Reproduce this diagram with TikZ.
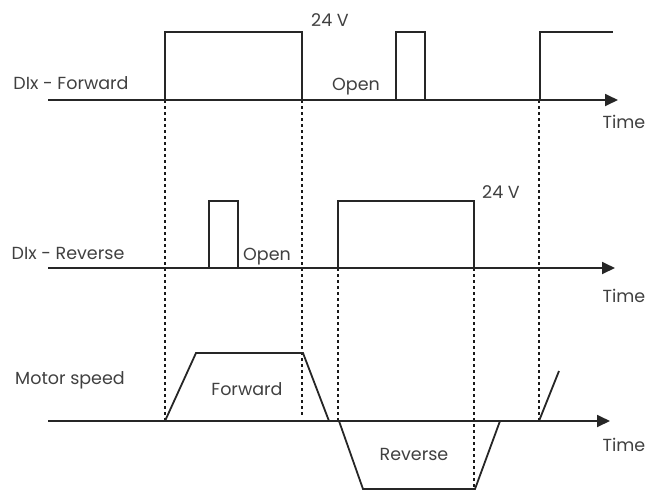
\documentclass[tikz,border=0pt]{standalone}
\usepackage{fontspec}
\newfontfamily\lbfont{Poppins}
\usetikzlibrary{arrows.meta}
\begin{document}
\begin{tikzpicture}[x=1pt,y=-1pt,
  sig/.style={line width=1.8pt, black!85, line join=miter},
  axis/.style={sig, -{Triangle[length=13pt,width=12pt]}},
  guide/.style={line width=1.4pt, black!90, dash pattern=on 3pt off 3pt},
  lbl/.style={font=\lbfont\fontsize{17.5}{20}\selectfont, text=black!75, inner sep=0pt}]
\useasboundingbox (0,0) rectangle (646,491);
% dashed guides
\draw[guide] (165,100) -- (165,421);
\draw[guide] (302,100) -- (302,417);
\draw[guide] (338,268) -- (338,421);
\draw[guide] (474,268) -- (474,489);
\draw[guide] (539,100) -- (539,421);
% top: DIx - Forward
\draw[axis] (48,100) -- (618,100);
\draw[sig] (165,100) -- (165,32) -- (302,32) -- (302,100);
\draw[sig] (396,100) -- (396,32) -- (425,32) -- (425,100);
\draw[sig] (540,100) -- (540,32) -- (613,32);
\node[lbl] (fwdlbl) at (71,83) {DIx - Forward};
\node[lbl] (fwdv) at (330,20) {24 V};
\node[lbl] (fwdopen) at (356,87) {Open};
\node[lbl] (t1) at (624,122) {Time};
% middle: DIx - Reverse
\draw[axis] (48,268) -- (615,268);
\draw[sig] (209,268) -- (209,201) -- (238,201) -- (238,268);
\draw[sig] (338,268) -- (338,201) -- (474,201) -- (474,268);
\node[lbl] (revlbl) at (68,253) {DIx - Reverse};
\node[lbl] (revopen) at (267,257) {Open};
\node[lbl] (revv) at (501,192) {24 V};
\node[lbl] (t2) at (624,296) {Time};
% bottom: Motor speed
\draw[axis] (48,421) -- (610,421);
\draw[sig] (165,421) -- (196,353) -- (303,353) -- (329,421);
\draw[sig] (339,421) -- (363,489) -- (475,489) -- (500,421);
\draw[sig] (539,421) -- (559,371);
\node[lbl] (mslbl) at (70,380) {Motor speed};
\node[lbl] (msf) at (247,389) {Forward};
\node[lbl] (msr) at (414,454) {Reverse};
\node[lbl] (t3) at (624,445) {Time};
\end{tikzpicture}
\end{document}
